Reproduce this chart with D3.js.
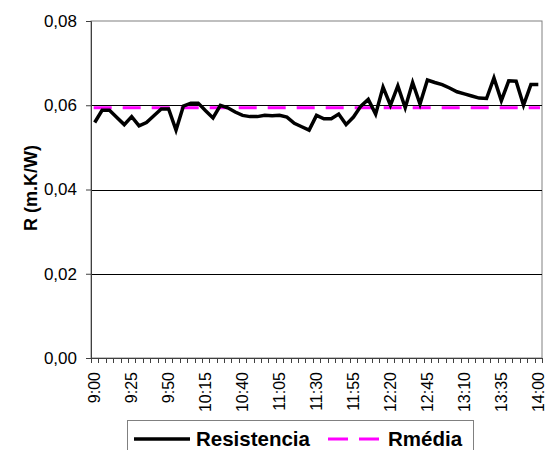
<!DOCTYPE html>
<html>
<head>
<meta charset="utf-8">
<script src="https://cdn.jsdelivr.net/npm/d3@7"></script>
<style>
  body { margin: 0; background: #fff; }
  svg { display: block; font-family: Arial, "Liberation Sans", sans-serif; }
</style>
</head>
<body>
<div id="chart"></div>
<script>
const W = 545, H = 450;

const times = [
  "9:00","9:05","9:10","9:15","9:20","9:25","9:30","9:35","9:40","9:45",
  "9:50","9:55","10:00","10:05","10:10","10:15","10:20","10:25","10:30","10:35",
  "10:40","10:45","10:50","10:55","11:00","11:05","11:10","11:15","11:20","11:25",
  "11:30","11:35","11:40","11:45","11:50","11:55","12:00","12:05","12:10","12:15",
  "12:20","12:25","12:30","12:35","12:40","12:45","12:50","12:55","13:00","13:05",
  "13:10","13:15","13:20","13:25","13:30","13:35","13:40","13:45","13:50","13:55",
  "14:00"
];

const resistencia = [
  0.0559, 0.0588, 0.0588, 0.0571, 0.0554, 0.0573, 0.0551, 0.0559, 0.0575, 0.0591,
  0.0591, 0.0541, 0.0598, 0.0605, 0.0605, 0.0587, 0.0570, 0.0600, 0.0594, 0.0584,
  0.0576, 0.0573, 0.0573, 0.0576, 0.0575, 0.0576, 0.0572, 0.0557, 0.0549, 0.0541,
  0.0576, 0.0568, 0.0568, 0.0579, 0.0554, 0.0572, 0.0598, 0.0614, 0.0579, 0.0643,
  0.0600, 0.0646, 0.0594, 0.0654, 0.0603, 0.0660, 0.0654, 0.0649, 0.0641, 0.0632,
  0.0627, 0.0622, 0.0617, 0.0616, 0.0665, 0.0611, 0.0658, 0.0657, 0.0600, 0.0649,
  0.0649
];

const rMedia = 0.0594;

const xLabels = ["9:00","9:25","9:50","10:15","10:40","11:05","11:30","11:55","12:20","12:45","13:10","13:35","14:00"];
const yTicks = [0, 0.02, 0.04, 0.06, 0.08];

const m = {l: 91, r: 542, t: 21, b: 358};

const svg = d3.select("#chart").append("svg")
  .attr("width", W).attr("height", H);

const x = d3.scaleBand().domain(times).range([m.l, m.r]).padding(0);
const xc = d => x(d) + x.bandwidth() / 2;
const y = d3.scaleLinear().domain([0, 0.08]).range([m.b, m.t]);

// plot area border
svg.append("rect")
  .attr("x", m.l).attr("y", m.t)
  .attr("width", m.r - m.l).attr("height", m.b - m.t)
  .attr("fill", "#fff").attr("stroke", "#808080").attr("stroke-width", 1);

// gridlines
svg.append("g")
  .selectAll("line")
  .data(yTicks.filter(d => d > 0 && d < 0.08))
  .join("line")
  .attr("x1", m.l).attr("x2", m.r)
  .attr("y1", d => Math.round(y(d)) + 0.5).attr("y2", d => Math.round(y(d)) + 0.5)
  .attr("stroke", "#000").attr("stroke-width", 1);

// y axis
const yAxis = svg.append("g")
  .attr("transform", `translate(${m.l},0)`)
  .call(d3.axisLeft(y).tickValues(yTicks).tickSize(5).tickPadding(9)
    .tickFormat(d => d3.format(".2f")(d).replace(".", ",")));
yAxis.select(".domain").attr("stroke", "#404040");
yAxis.selectAll(".tick line").attr("stroke", "#404040");
yAxis.selectAll("text").attr("font-size", 17).attr("fill", "#000")
  .attr("font-family", "Arial, 'Liberation Sans', sans-serif");

// x axis: ticks at category boundaries
const xAxisG = svg.append("g");
xAxisG.append("line")
  .attr("x1", m.l).attr("x2", m.r)
  .attr("y1", m.b + 0.5).attr("y2", m.b + 0.5)
  .attr("stroke", "#404040");
xAxisG.selectAll("line.tk")
  .data(times.map(t => x(t)).concat([m.r]))
  .join("line").attr("class", "tk")
  .attr("x1", d => Math.round(d) + 0.5).attr("x2", d => Math.round(d) + 0.5)
  .attr("y1", m.b).attr("y2", m.b + 5)
  .attr("stroke", "#404040");

xAxisG.selectAll("text")
  .data(xLabels)
  .join("text")
  .attr("transform", d => `translate(${xc(d) + 5.5},${m.b + 14}) rotate(-90)`)
  .attr("text-anchor", "end")
  .attr("font-size", 16)
  .attr("fill", "#000")
  .text(d => d);

// y title
svg.append("text")
  .attr("transform", `translate(37,188) rotate(-90)`)
  .attr("text-anchor", "middle")
  .attr("font-size", 18)
  .attr("font-weight", "bold")
  .text("R (m.K/W)");

// mean line
svg.append("line")
  .attr("x1", x(times[0]) + x.bandwidth() / 2 - 1).attr("x2", m.r - 2)
  .attr("y1", y(rMedia)).attr("y2", y(rMedia))
  .attr("stroke", "#ff00ff").attr("stroke-width", 3)
  .attr("stroke-dasharray", "18,11");

// resistencia line
svg.append("path")
  .datum(times.map((t, i) => [t, resistencia[i]]))
  .attr("d", d3.line().x(d => xc(d[0])).y(d => y(d[1])))
  .attr("fill", "none")
  .attr("stroke", "#000")
  .attr("stroke-width", 3.5)
  .attr("stroke-linejoin", "miter");

// legend
const lg = svg.append("g");
lg.append("rect")
  .attr("x", 127.5).attr("y", 420.5)
  .attr("width", 346).attr("height", 40)
  .attr("fill", "#fff").attr("stroke", "#808080");
lg.append("line")
  .attr("x1", 134).attr("x2", 190).attr("y1", 439).attr("y2", 439)
  .attr("stroke", "#000").attr("stroke-width", 3.5);
lg.append("text")
  .attr("x", 196).attr("y", 446)
  .attr("font-size", 20.5).attr("font-weight", "bold")
  .text("Resistencia");
lg.append("line")
  .attr("x1", 328).attr("x2", 379).attr("y1", 439).attr("y2", 439)
  .attr("stroke", "#ff00ff").attr("stroke-width", 3)
  .attr("stroke-dasharray", "20,11");
lg.append("text")
  .attr("x", 388).attr("y", 446)
  .attr("font-size", 20.5).attr("font-weight", "bold")
  .text("Rmédia");
</script>
</body>
</html>
